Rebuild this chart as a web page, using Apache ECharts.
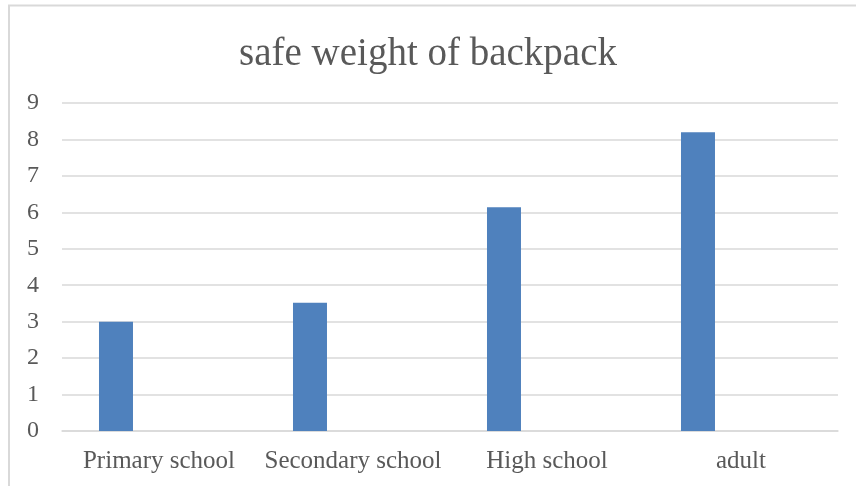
<!DOCTYPE html>
<html><head><meta charset="utf-8">
<script src="https://cdn.jsdelivr.net/npm/echarts@6/dist/echarts.min.js"></script>
<style>html,body{margin:0;padding:0;background:#fff}#c{width:856px;height:486px}</style>
</head><body><div id="c"></div>
<script>
const title = 'safe weight of backpack';
const categories = ['Primary school', 'Secondary school', 'High school', 'adult'];
const values = [3.0, 3.52, 6.14, 8.2];
const emptySeries = [null, null, null, null];
const yTicks = [0, 1, 2, 3, 4, 5, 6, 7, 8, 9];

const chart = echarts.init(document.getElementById('c'), null, {renderer: 'canvas'});
const font = '"Liberation Serif", serif';
chart.setOption({
  animation: false,
  backgroundColor: '#fff',
  title: {
    text: title, left: 'center', top: 30,
    textStyle: {fontFamily: font, fontSize: 39, fontWeight: 'normal', color: '#595959'}
  },
  grid: {left: 62, right: 18, top: 103, bottom: 55, containLabel: false},
  graphic: [{
    type: 'polyline', silent: true,
    shape: {points: [[9, 490], [9, 5.5], [860, 5.5]]},
    style: {stroke: '#d9d9d9', lineWidth: 2, fill: null}
  }],
  xAxis: {
    type: 'category', data: categories,
    axisLine: {lineStyle: {color: '#d9d9d9', width: 1.5}},
    axisTick: {show: false},
    axisLabel: {fontFamily: font, fontSize: 25, color: '#595959', margin: 18,
                interval: 0, hideOverlap: false}
  },
  yAxis: {
    type: 'value', min: yTicks[0], max: yTicks[yTicks.length - 1], interval: 1,
    axisLine: {show: false}, axisTick: {show: false},
    splitLine: {lineStyle: {color: '#d9d9d9', width: 1.5}},
    axisLabel: {fontFamily: font, fontSize: 24, color: '#595959', margin: 23}
  },
  series: [
    {type: 'bar', data: values, barWidth: 34, barGap: '153%',
     itemStyle: {color: '#4f81bd'}},
    {type: 'bar', data: emptySeries, barWidth: 34,
     itemStyle: {color: '#c0504d'}}
  ]
});
</script></body></html>
